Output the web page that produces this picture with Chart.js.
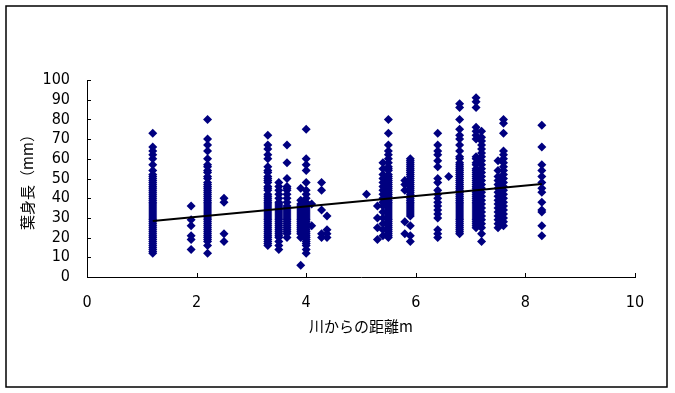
<!DOCTYPE html>
<html>
<head>
<meta charset="utf-8">
<script src="https://cdn.jsdelivr.net/npm/chart.js@4"></script>
<style>
  body { margin: 0; background: #ffffff; }
  canvas { display: block; }
</style>
</head>
<body>
<canvas id="hojaChart" width="675" height="393"></canvas>
<script>
// distancia al río (m) de cada columna de puntos
const distancias = [1.2, 1.9, 2.2, 2.5, 3.3, 3.5, 3.65, 3.9, 4.0, 4.1, 4.28, 4.38,
                    5.1, 5.3, 5.4, 5.5, 5.8, 5.9, 6.4, 6.6, 6.8, 7.1, 7.2, 7.5, 7.6, 8.3];

const h_1_2 = [73, 66, 64, 62, 60, 57, 54, 52, 51, 50, 49, 48, 47, 46, 45, 44, 43, 42, 41, 40, 39, 38, 37, 36, 35, 34, 33, 32, 31, 30, 29, 28, 27, 26, 25, 24, 23, 22, 21, 20, 19, 18, 17, 16, 15, 14, 13, 12];
const h_1_9 = [36, 29, 26, 21, 19, 14];
const h_2_2 = [80, 70, 67, 64, 60, 57, 56, 54, 53, 51, 50, 48, 47, 46, 45, 44, 43, 42, 41, 40, 39, 38, 37, 36, 35, 34, 33, 32, 31, 30, 29, 28, 27, 26, 25, 24, 23, 22, 21, 20, 19, 18, 16, 12];
const h_2_5 = [40, 38, 22, 18];
const h_3_3 = [72, 67, 65, 62, 60, 56, 54, 53, 51, 50, 49, 48, 46, 45, 44, 42, 41, 40, 39, 38, 37, 36, 35, 34, 33, 32, 31, 30, 29, 28, 27, 26, 25, 24, 23, 22, 21, 20, 19, 18, 17, 16];
const h_3_5 = [48, 46, 44, 42, 40, 38, 37, 36, 35, 34, 33, 32, 31, 30, 29, 28, 27, 26, 25, 24, 23, 22, 21, 20, 18, 16, 14];
const h_3_65 = [67, 58, 50, 46, 45, 44, 42, 40, 38, 36, 35, 34, 33, 32, 31, 30, 29, 28, 27, 26, 25, 24, 23, 22, 20];
const h_3_9 = [45, 39, 37, 36, 35, 34, 33, 32, 31, 30, 29, 28, 27, 26, 25, 24, 23, 22, 20, 6];
const h_4_0 = [75, 60, 57, 54, 48, 44, 42, 40, 38, 37, 36, 35, 34, 33, 32, 31, 30, 29, 28, 27, 26, 25, 24, 23, 22, 21, 20, 19, 18, 17, 16, 14, 12];
const h_4_1 = [37, 26];
const h_4_28 = [48, 44, 34, 22, 20];
const h_4_38 = [31, 24, 22, 20];
const h_5_1 = [42];
const h_5_3 = [36, 30, 25, 19];
const h_5_4 = [58, 55, 52, 50, 48, 46, 44, 42, 40, 38, 36, 33, 30, 27, 24, 21];
const h_5_5 = [80, 73, 67, 64, 62, 60, 58, 56, 55, 54, 52, 51, 50, 49, 48, 47, 46, 45, 44, 43, 42, 41, 40, 39, 38, 37, 36, 35, 34, 33, 32, 31, 30, 29, 28, 27, 26, 25, 24, 23, 22, 21, 20];
const h_5_8 = [49, 47, 44, 28, 22];
const h_5_9 = [60, 59, 58, 57, 56, 55, 54, 53, 52, 51, 50, 49, 48, 47, 46, 45, 44, 43, 42, 41, 40, 39, 38, 37, 36, 35, 34, 33, 32, 31, 26, 21, 18];
const h_6_4 = [73, 67, 64, 62, 59, 56, 50, 48, 44, 42, 40, 38, 36, 34, 32, 30, 24, 22, 20];
const h_6_6 = [51];
const h_6_8 = [88, 86, 80, 75, 72, 70, 67, 64, 61, 60, 58, 57, 56, 55, 54, 53, 52, 51, 50, 49, 48, 47, 46, 45, 44, 43, 42, 41, 40, 39, 38, 37, 36, 35, 34, 33, 32, 31, 30, 29, 28, 27, 26, 25, 24, 23, 22];
const h_7_1 = [91, 89, 86, 76, 74, 72, 70, 61, 60, 58, 57, 55, 54, 53, 52, 51, 50, 49, 48, 47, 46, 45, 44, 43, 42, 41, 40, 39, 38, 37, 36, 35, 34, 33, 32, 31, 30, 29, 28, 27, 26, 25];
const h_7_2 = [74, 71, 69, 67, 65, 63, 61, 59, 57, 55, 53, 51, 49, 47, 45, 43, 41, 39, 37, 35, 33, 31, 29, 27, 25, 22, 18];
const h_7_5 = [59, 54, 51, 49, 47, 45, 43, 41, 39, 37, 35, 33, 31, 29, 27, 25];
const h_7_6 = [80, 78, 73, 64, 62, 60, 58, 56, 54, 52, 50, 48, 46, 44, 42, 40, 38, 36, 34, 32, 30, 28, 26];
const h_8_3 = [77, 66, 57, 54, 51, 48, 45, 43, 38, 34, 33, 26, 21];

const columnas = [h_1_2, h_1_9, h_2_2, h_2_5, h_3_3, h_3_5, h_3_65, h_3_9, h_4_0, h_4_1, h_4_28, h_4_38,
                  h_5_1, h_5_3, h_5_4, h_5_5, h_5_8, h_5_9, h_6_4, h_6_6, h_6_8, h_7_1, h_7_2, h_7_5, h_7_6, h_8_3];

// recta de tendencia (extremos)
const tendenciaX = [1.2, 8.3];
const tendenciaY = [28.4, 47.2];

const tituloX = '川からの距離m';
const tituloY = '葉身長（mm）';

const puntos = [];
columnas.forEach(function (col, i) {
    col.forEach(function (v) {
        puntos.push({ x: distancias[i], y: v });
    });
});

const fuenteTicks = { family: "'DejaVu Sans Condensed', 'Liberation Sans Narrow', sans-serif", size: 16 };
const fuenteTitulo = { family: "'Noto Sans CJK JP', sans-serif", size: 15 };

// marcas de ejes hacia adentro y marco exterior
const marcasPlugin = {
    id: 'marcas',
    afterDraw: function (chart) {
        const ctx = chart.ctx;
        const xs = chart.scales.x;
        const ys = chart.scales.y;
        ctx.save();
        ctx.strokeStyle = '#000';
        ctx.lineWidth = 1;
        ctx.beginPath();
        xs.ticks.forEach(function (t) {
            const px = Math.round(xs.getPixelForValue(t.value)) + 0.5;
            ctx.moveTo(px, ys.bottom);
            ctx.lineTo(px, ys.bottom - 4);
        });
        ys.ticks.forEach(function (t) {
            const py = Math.round(ys.getPixelForValue(t.value)) + 0.5;
            ctx.moveTo(xs.left, py);
            ctx.lineTo(xs.left + 4, py);
        });
        ctx.stroke();
        ctx.lineWidth = 1.5;
        ctx.strokeRect(6, 6, 661, 381);
        ctx.restore();
    }
};

new Chart(document.getElementById('hojaChart'), {
    type: 'scatter',
    data: {
        datasets: [{
            type: 'line',
            data: tendenciaX.map(function (x, i) { return { x: x, y: tendenciaY[i] }; }),
            borderColor: '#000',
            borderWidth: 2,
            pointRadius: 0,
            fill: false
        }, {
            data: puntos,
            pointStyle: 'rectRot',
            pointRadius: 4.5,
            backgroundColor: '#000080',
            borderColor: '#000080',
            borderWidth: 0
        }]
    },
    options: {
        responsive: false,
        animation: false,
        layout: { padding: { left: 18, top: 80, right: 40, bottom: 58 } },
        plugins: {
            legend: { display: false },
            tooltip: { enabled: false }
        },
        scales: {
            x: {
                type: 'linear',
                min: 0,
                max: 10,
                ticks: { stepSize: 2, color: '#000', font: fuenteTicks, padding: 16, maxRotation: 0, autoSkip: false },
                grid: { drawOnChartArea: false, drawTicks: false },
                border: { display: true, color: '#000', width: 1 },
                title: { display: true, text: tituloX, color: '#000', font: fuenteTitulo, padding: 0 },
                afterFit: function (s) { s.height = 58; }
            },
            y: {
                min: 0,
                max: 100,
                ticks: { stepSize: 10, color: '#000', font: fuenteTicks, padding: 17, autoSkip: false },
                grid: { drawOnChartArea: false, drawTicks: false },
                border: { display: true, color: '#000', width: 1 },
                title: { display: true, text: tituloY, color: '#000', font: fuenteTitulo, padding: 0 },
                afterFit: function (s) { s.width = 69; }
            }
        }
    },
    plugins: [marcasPlugin]
});
</script>
</body>
</html>
